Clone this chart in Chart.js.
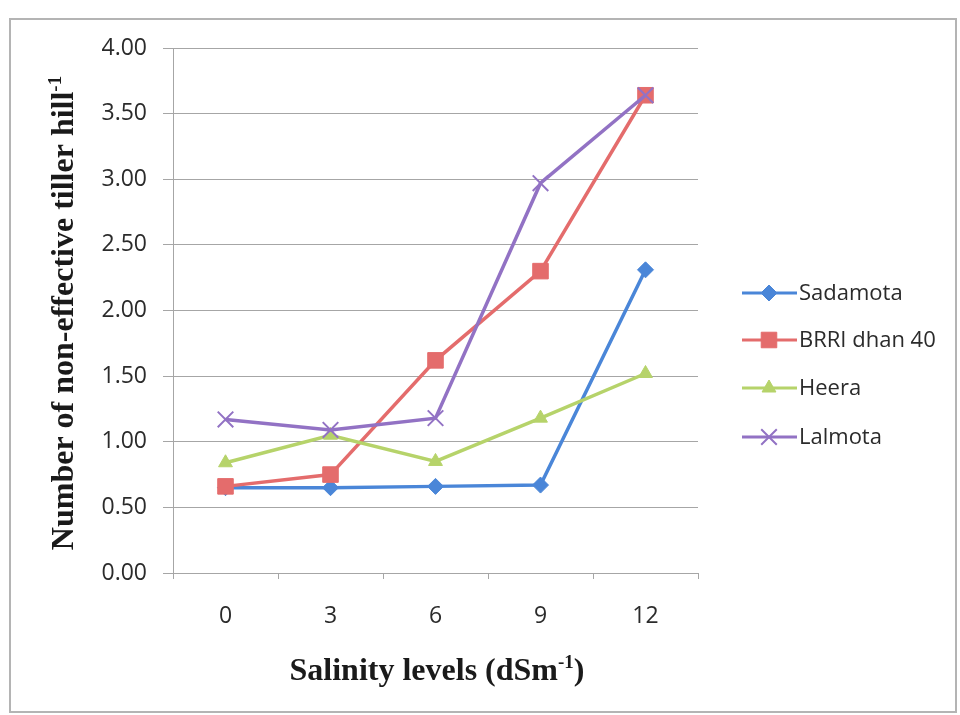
<!DOCTYPE html>
<html lang="en">
<head>
<meta charset="UTF-8">
<title>Non-effective tillers vs salinity</title>
<script src="https://cdn.jsdelivr.net/npm/chart.js@4"></script>
<style>
  html, body { margin: 0; padding: 0; background: #fff; }
  #wrap { width: 960px; height: 715px; position: relative; }
</style>
</head>
<body>
<div id="wrap"><canvas id="chart"></canvas></div>
<script>
// Data
const salinityLevels = ['0', '3', '6', '9', '12'];
const sadamota   = [0.65, 0.65, 0.66, 0.67, 2.31];
const brriDhan40 = [0.66, 0.75, 1.62, 2.30, 3.64];
const heera      = [0.84, 1.05, 0.85, 1.18, 1.52];
const lalmota    = [1.17, 1.09, 1.18, 2.97, 3.64];
const yMin = 0, yMax = 4, yStep = 0.5;

const tickFont = { family: 'Open Sans', size: 23 };
const gridColor = '#a6a6a6';

// Titles with superscripts, legend and outer frame
const decorations = {
  id: 'decorations',
  beforeDraw(chart) {
    const ctx = chart.ctx;
    ctx.save();
    ctx.fillStyle = '#fff';
    ctx.fillRect(0, 0, chart.width, chart.height);
    ctx.restore();
  },
  afterDraw(chart) {
    const ctx = chart.ctx;
    ctx.save();

    // frame
    ctx.strokeStyle = '#b4b4b4';
    ctx.lineWidth = 2;
    ctx.strokeRect(10, 19, 946, 693);

    // helper: text followed by raised superscript, optionally trailing text
    const titleFont = 'bold 32px "Liberation Serif"';
    const supFont = 'bold 19px "Liberation Serif"';
    function measure(parts) {
      let w = 0;
      parts.forEach(p => { ctx.font = p.sup ? supFont : titleFont; w += ctx.measureText(p.t).width; });
      return w;
    }
    function drawParts(parts, x, y) {
      parts.forEach(p => {
        ctx.font = p.sup ? supFont : titleFont;
        ctx.fillText(p.t, x, p.sup ? y - 12 : y);
        x += ctx.measureText(p.t).width;
      });
    }
    ctx.fillStyle = '#1a1a1a';
    ctx.textBaseline = 'alphabetic';
    ctx.textAlign = 'left';

    // x title
    const xParts = [{ t: 'Salinity levels (dSm' }, { t: '-1', sup: true }, { t: ')' }];
    const xw = measure(xParts);
    drawParts(xParts, 437 - xw / 2, 680);

    // y title (rotated)
    const yParts = [{ t: 'Number of non-effective tiller hill' }, { t: '-1', sup: true }];
    const yw = measure(yParts);
    ctx.save();
    ctx.translate(73, 313);
    ctx.rotate(-Math.PI / 2);
    drawParts(yParts, -yw / 2, 0);
    ctx.restore();

    // legend
    const rowY = [293, 340, 388, 437];
    chart.data.datasets.forEach((ds, i) => {
      const y = rowY[i];
      ctx.strokeStyle = ds.borderColor;
      ctx.lineWidth = 3;
      ctx.beginPath();
      ctx.moveTo(742, y);
      ctx.lineTo(797, y);
      ctx.stroke();
      ctx.fillStyle = ds.pointBackgroundColor;
      ctx.strokeStyle = ds.borderColor;
      ctx.lineWidth = ds.pointBorderWidth;
      Chart.helpers.drawPoint(ctx, {
        pointStyle: ds.pointStyle,
        rotation: 0,
        radius: ds.pointRadius,
        borderWidth: ds.pointBorderWidth
      }, 769, y);
      ctx.fillStyle = '#2b2b2b';
      ctx.font = '22px "Open Sans"';
      ctx.textBaseline = 'middle';
      ctx.fillText(ds.label, 799, y + 1);
    });

    ctx.restore();
  }
};

function series(label, data, color, style, radius, bw, order) {
  return {
    label, data, order,
    borderColor: color,
    backgroundColor: color,
    pointBackgroundColor: color,
    pointBorderColor: color,
    pointStyle: style,
    pointRadius: radius,
    pointHoverRadius: radius,
    pointBorderWidth: bw,
    borderWidth: 3.5,
    tension: 0,
    fill: false
  };
}

new Chart(document.getElementById('chart'), {
  type: 'line',
  data: {
    labels: salinityLevels,
    datasets: [
      series('Sadamota', sadamota, '#4a86d8', 'rectRot', 8, 1, 4),
      series('BRRI dhan 40', brriDhan40, '#e46c6c', 'rect', 11, 1, 3),
      series('Heera', heera, '#b6d36a', 'triangle', 8, 1, 2),
      series('Lalmota', lalmota, '#9272c4', 'crossRot', 11, 2, 1)
    ]
  },
  options: {
    responsive: true,
    maintainAspectRatio: false,
    animation: false,
    layout: { padding: { top: 48, right: 262, left: 0, bottom: 0 } },
    plugins: {
      legend: { display: false },
      tooltip: { enabled: false }
    },
    scales: {
      x: {
        offset: true,
        grid: {
          offset: true,
          drawOnChartArea: false,
          drawTicks: true,
          tickLength: 6,
          color: gridColor
        },
        border: { color: gridColor, width: 1 },
        ticks: { font: tickFont, color: '#2b2b2b', padding: 24, maxRotation: 0 },
        afterFit(scale) { scale.height = 142; }
      },
      y: {
        min: yMin,
        max: yMax,
        grid: { color: gridColor, tickLength: 10 },
        border: { color: gridColor, width: 1 },
        ticks: {
          stepSize: yStep,
          font: tickFont,
          color: '#2b2b2b',
          padding: 16,
          callback: v => v.toFixed(2)
        },
        afterFit(scale) { scale.width = 173; }
      }
    }
  },
  plugins: [decorations]
});
</script>
</body>
</html>
